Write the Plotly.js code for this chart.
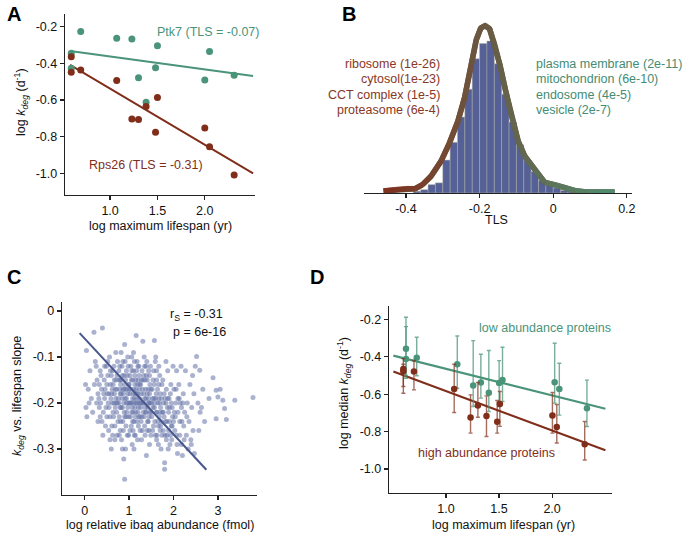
<!DOCTYPE html>
<html>
<head>
<meta charset="utf-8">
<script src="https://cdn.plot.ly/plotly-3.0.1.min.js"></script>
<style>
body { margin: 0; background: #fff; }
#fig { width: 688px; height: 533px; }
</style>
</head>
<body>
<div id="fig"></div>
<script>
// Panel A: kdeg vs lifespan for two proteins
const lifespanA = [0.59, 0.59, 0.69, 1.07, 1.23, 1.30, 1.38, 1.48, 1.50, 2.00, 2.05, 2.31];
const kdegPtk7 = [-0.345, -0.427, -0.227, -0.263, -0.267, -0.478, -0.612, -0.424, -0.304, -0.491, -0.336, -0.465];
const kdegRps26 = [-0.364, -0.449, -0.436, -0.493, -0.704, -0.706, -0.636, -0.776, -0.587, -0.753, -0.855, -1.009];
const fitXA = [0.577, 2.51];
const fitPtk7 = [-0.333, -0.469];
const fitRps26 = [-0.409, -1.0];

// Panel B: TLS histogram + density
const binCenters = [-0.37, -0.35, -0.33, -0.31, -0.29, -0.27, -0.25, -0.23, -0.21, -0.19, -0.17, -0.15, -0.13, -0.11, -0.09, -0.07, -0.05, -0.03, -0.01, 0.01, 0.03, 0.05, 0.07];
const binDensity = [0.07, 0.13, 0.33, 0.4, 1.3, 2.0, 3.0, 4.1, 5.3, 5.9, 6.0, 5.1, 3.9, 2.8, 1.9, 1.3, 0.85, 0.5, 0.3, 0.2, 0.1, 0.07, 0.04];
const kdeTLS = [-0.461, -0.43, -0.40, -0.375, -0.355, -0.332, -0.305, -0.282, -0.259, -0.241, -0.223, -0.209, -0.197, -0.185, -0.173, -0.159, -0.145, -0.130, -0.114, -0.095, -0.077, -0.050, -0.023, 0.005, 0.032, 0.059, 0.09, 0.12, 0.167];
const kdeDensity = [0.08, 0.13, 0.17, 0.17, 0.33, 0.66, 1.25, 1.97, 2.83, 3.75, 5.04, 6.05, 6.51, 6.61, 6.49, 5.86, 5.07, 4.08, 3.09, 2.04, 1.45, 0.92, 0.42, 0.32, 0.21, 0.09, 0.04, 0.04, 0.04];
const leftTerms = ["ribosome (1e-26)", "cytosol(1e-23)", "CCT complex (1e-5)", "proteasome (6e-4)"];
const rightTerms = ["plasma membrane (2e-11)", "mitochondrion (6e-10)", "endosome (4e-5)", "vesicle (2e-7)"];

// Panel C: abundance vs slope, one pair per protein
const abundSlope = [
  [0.02,-0.16],[0.05,-0.23],[0.03,-0.21],[0.08,-0.17],[0.12,-0.13],[0.04,-0.086],[0.15,-0.19],[0.18,-0.22],[0.21,-0.046],[0.1,-0.2],[0.22,-0.16],[0.24,-0.11],
  [0.28,-0.15],[0.3,-0.18],[0.33,-0.21],[0.35,-0.13],[0.4,-0.037],[0.38,-0.17],[0.42,-0.22],[0.45,-0.19],[0.47,-0.25],[0.3,-0.24],[0.36,-0.2],[0.44,-0.15],[0.49,-0.12],[0.27,-0.2],[0.41,-0.27],[0.46,-0.17],[0.33,-0.16],[0.48,-0.21],
  [0.52,-0.14],[0.55,-0.18],[0.57,-0.23],[0.6,-0.3],[0.62,-0.2],[0.64,-0.16],[0.66,-0.12],[0.68,-0.25],[0.7,-0.19],[0.72,-0.22],[0.74,-0.11],[0.53,-0.2],[0.58,-0.16],[0.61,-0.25],[0.63,-0.13],[0.67,-0.18],[0.69,-0.21],[0.71,-0.15],[0.73,-0.27],[0.56,-0.1],[0.59,-0.19],[0.65,-0.23],[0.7,-0.09],[0.54,-0.26],[0.62,-0.17],[0.66,-0.2],[0.72,-0.17],[0.75,-0.24],[0.51,-0.18],[0.6,-0.14],[0.68,-0.28],[0.74,-0.2],
  [0.77,-0.13],[0.79,-0.17],[0.8,-0.21],[0.82,-0.09],[0.84,-0.19],[0.86,-0.24],[0.88,-0.322],[0.9,-0.366],[0.9,-0.073],[0.92,-0.15],[0.94,-0.2],[0.96,-0.27],[0.98,-0.12],[0.78,-0.23],[0.81,-0.16],[0.83,-0.28],[0.85,-0.14],[0.87,-0.18],[0.89,-0.22],[0.91,-0.11],[0.93,-0.25],[0.95,-0.17],[0.97,-0.21],[0.99,-0.16],[0.76,-0.19],[0.8,-0.26],[0.84,-0.12],[0.88,-0.2],[0.92,-0.3],[0.96,-0.14],[0.99,-0.23],[0.78,-0.15],[0.86,-0.17],[0.94,-0.19],[0.82,-0.21],[0.9,-0.16],[0.97,-0.1],[0.85,-0.3],[0.93,-0.23],[0.8,-0.18],
  [1.01,-0.2],[1.02,-0.14],[1.04,-0.17],[1.05,-0.25],[1.06,-0.1],[1.08,-0.19],[1.09,-0.22],[1.1,-0.13],[1.12,-0.27],[1.13,-0.16],[1.15,-0.2],[1.16,-0.053],[1.17,-0.18],[1.18,-0.24],[1.2,-0.15],[1.21,-0.21],[1.22,-0.12],[1.24,-0.19],[1.03,-0.23],[1.07,-0.29],[1.11,-0.17],[1.14,-0.23],[1.19,-0.28],[1.23,-0.17],[1.0,-0.16],[1.05,-0.2],[1.1,-0.09],[1.15,-0.15],[1.2,-0.22],[1.25,-0.26],[1.02,-0.18],[1.08,-0.15],[1.13,-0.21],[1.18,-0.11],[1.22,-0.2],[1.06,-0.22],[1.12,-0.19],[1.17,-0.13],[1.24,-0.23],[1.09,-0.26],[1.14,-0.18],[1.04,-0.12],[1.2,-0.18],[1.11,-0.3],
  [1.26,-0.16],[1.28,-0.2],[1.29,-0.13],[1.31,-0.066],[1.32,-0.22],[1.33,-0.18],[1.35,-0.25],[1.36,-0.15],[1.38,-0.19],[1.39,-0.314],[1.4,-0.11],[1.42,-0.21],[1.43,-0.17],[1.45,-0.23],[1.46,-0.14],[1.48,-0.2],[1.49,-0.27],[1.27,-0.24],[1.3,-0.17],[1.34,-0.1],[1.37,-0.22],[1.41,-0.26],[1.44,-0.19],[1.47,-0.16],[1.5,-0.22],[1.28,-0.28],[1.33,-0.2],[1.39,-0.14],[1.43,-0.24],[1.48,-0.12],[1.31,-0.15],[1.36,-0.21],[1.41,-0.18],[1.46,-0.29],[1.26,-0.21],[1.35,-0.12],[1.45,-0.2],
  [1.52,-0.17],[1.54,-0.21],[1.55,-0.13],[1.57,-0.064],[1.58,-0.24],[1.6,-0.19],[1.62,-0.15],[1.63,-0.27],[1.65,-0.2],[1.67,-0.12],[1.68,-0.23],[1.7,-0.18],[1.72,-0.3],[1.74,-0.16],[1.53,-0.26],[1.56,-0.19],[1.59,-0.11],[1.61,-0.22],[1.64,-0.17],[1.66,-0.25],[1.69,-0.14],[1.71,-0.21],[1.73,-0.24],[1.51,-0.2],[1.57,-0.16],[1.62,-0.28],[1.67,-0.19],[1.75,-0.22],[1.6,-0.1],[1.7,-0.26],
  [1.76,-0.15],[1.78,-0.2],[1.8,-0.33],[1.8,-0.344],[1.82,-0.24],[1.84,-0.17],[1.85,-0.27],[1.87,-0.13],[1.89,-0.22],[1.9,-0.19],[1.92,-0.29],[1.94,-0.16],[1.95,-0.25],[1.97,-0.21],[1.99,-0.12],[1.77,-0.26],[1.81,-0.19],[1.86,-0.21],[1.88,-0.3],[1.91,-0.24],[1.93,-0.18],[1.96,-0.28],[1.98,-0.23],[1.83,-0.11],[1.79,-0.23],
  [2.01,-0.17],[2.03,-0.26],[2.05,-0.2],[2.07,-0.13],[2.08,-0.29],[2.1,-0.22],[2.12,-0.16],[2.14,-0.27],[2.15,-0.2],[2.17,-0.12],[2.19,-0.24],[2.2,-0.314],[2.22,-0.18],[2.24,-0.28],[2.04,-0.23],[2.09,-0.31],[2.13,-0.19],[2.18,-0.21],[2.23,-0.25],[2.06,-0.17],
  [2.27,-0.13],[2.29,-0.27],[2.31,-0.2],[2.33,-0.3],[2.35,-0.24],[2.37,-0.16],[2.39,-0.28],[2.41,-0.21],[2.44,-0.26],[2.46,-0.18],[2.47,-0.31],[2.49,-0.12],[2.3,-0.23],[2.4,-0.29],[2.43,-0.14],
  [2.52,-0.099],[2.55,-0.2],[2.57,-0.26],[2.59,-0.129],[2.6,-0.22],[2.63,-0.21],[2.66,-0.17],[2.7,-0.24],
  [2.8,-0.19],[2.89,-0.145],[2.96,-0.172],[2.96,-0.234],[3.0,-0.187],[3.11,-0.194],[3.15,-0.212],[3.19,-0.236],[3.38,-0.194],[3.79,-0.188],[3.05,-0.17],
  // denser core
  [0.32,-0.19],[0.37,-0.14],[0.43,-0.18],[0.5,-0.16],[0.55,-0.21],[0.58,-0.13],[0.61,-0.18],[0.64,-0.22],[0.67,-0.15],[0.69,-0.17],[0.71,-0.2],[0.73,-0.14],[0.5,-0.23],[0.45,-0.12],[0.39,-0.24],[0.26,-0.12],[0.35,-0.23],[0.63,-0.27],[0.57,-0.28],[0.52,-0.11],
  [0.77,-0.2],[0.79,-0.12],[0.81,-0.24],[0.83,-0.15],[0.85,-0.21],[0.87,-0.26],[0.89,-0.14],[0.91,-0.19],[0.93,-0.17],[0.95,-0.22],[0.97,-0.18],[0.99,-0.27],[0.78,-0.27],[0.82,-0.18],[0.86,-0.11],[0.9,-0.23],[0.94,-0.13],[0.98,-0.2],[0.8,-0.15],[0.88,-0.17],
  [1.01,-0.17],[1.03,-0.2],[1.05,-0.15],[1.07,-0.21],[1.09,-0.18],[1.11,-0.24],[1.13,-0.14],[1.15,-0.22],[1.17,-0.2],[1.19,-0.16],[1.21,-0.25],[1.23,-0.14],[1.25,-0.2],[1.02,-0.26],[1.06,-0.13],[1.1,-0.2],[1.14,-0.27],[1.18,-0.19],[1.22,-0.23],[1.08,-0.24],[1.12,-0.11],[1.16,-0.17],[1.2,-0.12],[1.24,-0.16],
  [1.27,-0.18],[1.29,-0.23],[1.31,-0.2],[1.33,-0.14],[1.35,-0.19],[1.37,-0.17],[1.39,-0.22],[1.41,-0.15],[1.43,-0.2],[1.45,-0.26],[1.47,-0.22],[1.49,-0.17],[1.3,-0.26],[1.34,-0.23],[1.38,-0.12],[1.42,-0.24],[1.46,-0.18],[1.28,-0.15],[1.36,-0.27],[1.44,-0.13],
  [1.51,-0.23],[1.53,-0.19],[1.55,-0.25],[1.57,-0.21],[1.59,-0.27],[1.61,-0.18],[1.63,-0.22],[1.65,-0.24],[1.67,-0.16],[1.69,-0.2],[1.71,-0.25],[1.73,-0.19],[1.54,-0.15],[1.58,-0.2],[1.62,-0.13],[1.66,-0.29],[1.7,-0.22],[1.74,-0.27],
  [1.77,-0.22],[1.79,-0.18],[1.81,-0.27],[1.83,-0.2],[1.85,-0.24],[1.87,-0.19],[1.89,-0.26],[1.91,-0.21],[1.93,-0.27],[1.95,-0.2],[1.97,-0.25],[2.02,-0.22],[2.06,-0.27],[2.1,-0.19],[2.14,-0.24],[2.18,-0.29],[2.21,-0.2],[2.25,-0.22],[1.84,-0.28],[2.0,-0.24]
];
const fitXC = [-0.113, 2.74];
const fitYC = [-0.048, -0.345];

// Panel D: median kdeg with error bars
const lifespanLow = [0.624, 0.624, 0.725, 1.107, 1.257, 1.329, 1.404, 1.501, 1.533, 2.024, 2.068, 2.328];
const medLow = [-0.358, -0.412, -0.405, -0.44, -0.554, -0.538, -0.593, -0.541, -0.524, -0.536, -0.573, -0.675];
const upLow = [-0.189, -0.239, -0.296, -0.289, -0.314, -0.387, -0.367, -0.421, -0.349, -0.328, -0.435, -0.525];
const downLow = [-0.515, -0.50, -0.502, -0.568, -0.666, -0.621, -0.693, -0.666, -0.639, -0.648, -0.712, -0.773];
const lifespanHigh = [0.599, 0.599, 0.699, 1.078, 1.232, 1.301, 1.382, 1.483, 1.508, 2.003, 2.044, 2.307];
const medHigh = [-0.465, -0.477, -0.479, -0.572, -0.724, -0.66, -0.716, -0.748, -0.653, -0.714, -0.776, -0.868];
const upHigh = [-0.41, -0.44, -0.42, -0.44, -0.604, -0.538, -0.609, -0.634, -0.586, -0.591, -0.655, -0.746];
const downHigh = [-0.595, -0.559, -0.577, -0.698, -0.808, -0.723, -0.826, -0.808, -0.772, -0.808, -0.861, -0.952];
const fitXD = [0.505, 2.502];
const fitLow = [-0.394, -0.678];
const fitHigh = [-0.479, -0.9];

const W = 688, H = 533;
const FONT = "Liberation Sans, Arial, Helvetica, sans-serif";
const GREEN = "rgb(74,148,122)";
const RED = "rgb(128,46,26)";

function fx(p) { return p / W; }
function fy(p) { return 1 - p / H; }

function axis(dom, range, vals, texts, anchor) {
  return {
    domain: dom, range: range, anchor: anchor,
    tickvals: vals, ticktext: texts,
    showgrid: false, zeroline: false, showline: true,
    linecolor: "#222", linewidth: 1.3,
    ticks: "outside", ticklen: 4, tickwidth: 1.2, tickcolor: "#222",
    tickfont: { family: FONT, size: 12.5, color: "#111" }
  };
}

function note(text, x, y, color, opts) {
  return Object.assign({
    text: text, xref: "paper", yref: "paper", x: fx(x), y: fy(y),
    xanchor: "left", yanchor: "middle", showarrow: false,
    font: { family: FONT, size: 12.5, color: color }
  }, opts || {});
}

// brown -> green along the density curve
function mixColor(t) {
  var a = [128, 48, 30], b = [78, 142, 112];
  var c = a.map(function (v, i) { return Math.round(v + (b[i] - v) * t); });
  return "rgb(" + c.join(",") + ")";
}

function diffs(a, b) { return a.map(function (v, i) { return Math.abs(v - b[i]); }); }

function build() {
  var data = [];

  // A
  data.push({ x: fitXA, y: fitPtk7, mode: "lines", line: { color: GREEN, width: 2 }, xaxis: "x", yaxis: "y" });
  data.push({ x: fitXA, y: fitRps26, mode: "lines", line: { color: RED, width: 2 }, xaxis: "x", yaxis: "y" });
  data.push({ x: lifespanA, y: kdegPtk7, mode: "markers", marker: { color: GREEN, size: 7 }, xaxis: "x", yaxis: "y" });
  data.push({ x: lifespanA, y: kdegRps26, mode: "markers", marker: { color: RED, size: 7 }, xaxis: "x", yaxis: "y" });

  // B
  data.push({ type: "bar", x: binCenters, y: binDensity, width: 0.02,
    marker: { color: "rgb(84,96,150)", line: { color: "rgba(175,175,160,0.8)", width: 0.6 } },
    xaxis: "x2", yaxis: "y2" });
  data.push({ x: kdeTLS, y: kdeDensity, mode: "lines", line: { color: mixColor(0.45), width: 5.5 }, xaxis: "x2", yaxis: "y2" });
  var lo = kdeTLS[0], hi = kdeTLS[kdeTLS.length - 1];
  for (var i = 0; i < kdeTLS.length - 1; i++) {
    var t = ((kdeTLS[i] + kdeTLS[i + 1]) / 2 - lo) / (hi - lo);
    data.push({ x: kdeTLS.slice(i, i + 2), y: kdeDensity.slice(i, i + 2), mode: "lines",
      line: { color: mixColor(t), width: 5.5 }, xaxis: "x2", yaxis: "y2" });
  }

  // C
  data.push({ x: abundSlope.map(function (p) { return p[0]; }), y: abundSlope.map(function (p) { return p[1]; }),
    mode: "markers", marker: { color: "rgba(100,114,168,0.55)", size: 5 }, xaxis: "x3", yaxis: "y3" });
  data.push({ x: fitXC, y: fitYC, mode: "lines", line: { color: "rgb(72,86,140)", width: 2 }, xaxis: "x3", yaxis: "y3" });

  // D
  data.push({ x: fitXD, y: fitLow, mode: "lines", line: { color: GREEN, width: 2.2 }, xaxis: "x4", yaxis: "y4" });
  data.push({ x: fitXD, y: fitHigh, mode: "lines", line: { color: RED, width: 2.2 }, xaxis: "x4", yaxis: "y4" });
  data.push({ x: lifespanLow, y: medLow, mode: "markers", marker: { color: GREEN, size: 6.5 },
    error_y: { type: "data", symmetric: false, array: diffs(upLow, medLow), arrayminus: diffs(medLow, downLow),
      color: "rgba(74,148,122,0.75)", thickness: 1.4, width: 2 },
    xaxis: "x4", yaxis: "y4" });
  data.push({ x: lifespanHigh, y: medHigh, mode: "markers", marker: { color: RED, size: 6.5 },
    error_y: { type: "data", symmetric: false, array: diffs(upHigh, medHigh), arrayminus: diffs(medHigh, downHigh),
      color: "rgba(128,46,26,0.7)", thickness: 1.4, width: 2 },
    xaxis: "x4", yaxis: "y4" });

  var ann = [];
  // panel letters
  [["A", 5, 14], ["B", 340, 14], ["C", 5, 277], ["D", 308, 277]].forEach(function (l) {
    ann.push(note("<b>" + l[0] + "</b>", l[1], l[2], "#000", { font: { family: FONT, size: 20, color: "#000" } }));
  });
  // A texts
  ann.push(note("Ptk7 (TLS = -0.07)", 155, 32, GREEN));
  ann.push(note("Rps26 (TLS = -0.31)", 87, 165, RED));
  ann.push(note("log <i>k<sub>deg</sub></i> (d<sup>-1</sup>)", 21, 102, "#111", { xanchor: "center", textangle: -90 }));
  ann.push(note("log maximum lifespan (yr)", 160, 226, "#111", { xanchor: "center" }));
  // B texts
  leftTerms.forEach(function (s, k) { ann.push(note(s, 442, 63.5 + k * 15.5, "rgb(135,55,38)", { xanchor: "right" })); });
  rightTerms.forEach(function (s, k) { ann.push(note(s, 534, 63.5 + k * 15.5, "rgb(68,140,115)")); });
  ann.push(note("TLS", 497, 220, "#111", { xanchor: "center" }));
  // C texts
  ann.push(note("r<sub>S</sub> = -0.31", 168, 315, "#111"));
  ann.push(note("p = 6e-16", 171, 332, "#111"));
  ann.push(note("<i>k<sub>deg</sub></i> vs. lifespan slope", 18, 396, "#111", { xanchor: "center", textangle: -90 }));
  ann.push(note("log relative ibaq abundance (fmol)", 160, 525, "#111", { xanchor: "center" }));
  // D texts
  ann.push(note("low abundance proteins", 477, 328, GREEN));
  ann.push(note("high abundance proteins", 416, 453, RED));
  ann.push(note("log median <i>k<sub>deg</sub></i> (d<sup>-1</sup>)", 344, 393, "#111", { xanchor: "center", textangle: -90 }));
  ann.push(note("log maximum lifespan (yr)", 503, 525, "#111", { xanchor: "center" }));

  var layout = {
    width: W, height: H,
    margin: { l: 0, r: 0, t: 0, b: 0 },
    paper_bgcolor: "#fff", plot_bgcolor: "rgba(0,0,0,0)",
    showlegend: false, bargap: 0,
    font: { family: FONT },
    xaxis: axis([fx(65), fx(255)], [0.524, 2.53], [1.0, 1.5, 2.0], ["1.0", "1.5", "2.0"], "y"),
    yaxis: axis([fy(195), fy(14)], [-1.118, -0.131], [-1.0, -0.8, -0.6, -0.4, -0.2], ["-1.0", "-0.8", "-0.6", "-0.4", "-0.2"], "x"),
    xaxis2: axis([fx(364), fx(632)], [-0.514, 0.214], [-0.4, -0.2, 0, 0.2], ["-0.4", "-0.2", "0", "0.2"], "y2"),
    yaxis2: { domain: [fy(193), fy(15)], range: [0, 7.03], anchor: "x2", visible: false },
    xaxis3: axis([fx(62), fx(257)], [-0.51, 3.88], [0, 1, 2, 3], ["0", "1", "2", "3"], "y3"),
    yaxis3: axis([fy(495), fy(302)], [-0.40, 0.0196], [-0.3, -0.2, -0.1, 0], ["-0.3", "-0.2", "-0.1", "0"], "x3"),
    xaxis4: axis([fx(389), fx(612)], [0.464, 2.564], [1.0, 1.5, 2.0], ["1.0", "1.5", "2.0"], "y4"),
    yaxis4: axis([fy(493), fy(306)], [-1.128, -0.129], [-1.0, -0.8, -0.6, -0.4, -0.2], ["-1.0", "-0.8", "-0.6", "-0.4", "-0.2"], "x4"),
    annotations: ann
  };

  Plotly.newPlot("fig", data, layout, { staticPlot: true });
}

build();
</script>
</body>
</html>
